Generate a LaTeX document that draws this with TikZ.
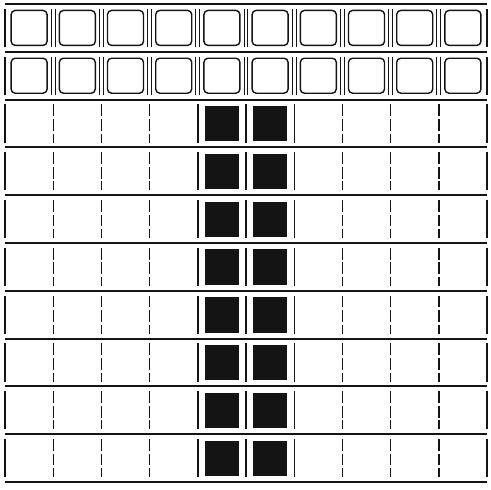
\documentclass[tikz,border=0pt]{standalone}
\usepackage{tikz}
\usetikzlibrary{positioning}
\definecolor{pgink}{HTML}{141414}
\tikzset{
  hrule/.style={line width=1.7pt,draw=pgink},
  vrule/.style={line width=1.2pt,draw=pgink},
  vdash/.style={vrule,dash pattern=on 10pt off 2.5pt},
  vdouble/.style={draw=pgink,line width=0.9pt,double=white,double distance=2.4pt},
  keycap/.style={draw=pgink,line width=1.2pt,rounded corners=3.5pt,
                 minimum width=1.08cm,minimum height=1.05cm,inner sep=0pt},
  blackcap/.style={draw=pgink,fill=pgink,line width=0.6pt,
                 minimum width=0.99cm,minimum height=1.03cm,inner sep=0pt},
}

\begin{document}
\begin{tikzpicture}[x=1.446cm,y=1.434cm]
  \useasboundingbox (-0.104,-0.167) rectangle (10.083,10.084);

  % ---------- horizontal rules ----------
  \foreach \r in {0,...,10}
    {\draw[hrule] (0,\r) -- (10,\r);}

  % ---------- top two rows: framed keys ----------
  \foreach \r in {1,2}{
    \foreach \c in {1,...,10}
      {\node[keycap] (key-\r-\c) at (\c-0.5,10.5-\r) {};}
    \foreach \c in {1,...,9}
      {\draw[vdouble] (\c,10.9-\r) -- (\c,10.1-\r);}
    \foreach \c in {0,10}
      {\draw[vrule] (\c,10.9-\r) -- (\c,10.1-\r);}
  }

  % ---------- lower rows: dashed cells, two black keys ----------
  \foreach \r in {3,...,10}{
    \foreach \c in {0,4,5,6,10}
      {\draw[vrule] (\c,10.9-\r) -- (\c,10.1-\r);}
    \foreach \c in {1,2,3,7,8,9}
      {\draw[vdash] (\c,10.9-\r) -- (\c,10.1-\r);}
    \node[blackcap] (dot-\r-a) at (4.5,10.5-\r) {};
    \node[blackcap] (dot-\r-b) at (5.5,10.5-\r) {};
  }
\end{tikzpicture}
\end{document}
